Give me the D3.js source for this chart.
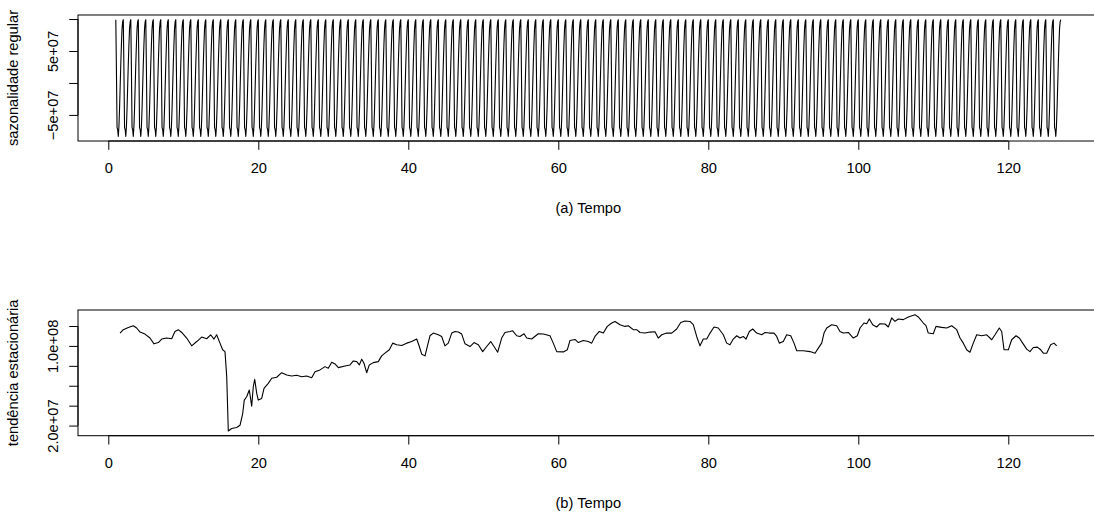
<!DOCTYPE html>
<html>
<head>
<meta charset="utf-8">
<script src="https://d3js.org/d3.v7.min.js"></script>
<style>
  body { margin: 0; background: #fff; }
  text { font-family: "Liberation Sans", Arial, sans-serif; }
</style>
</head>
<body>
<script>
// values in millions
var unit = 1e6;

// one seasonal period (peak first), repeated over the whole series
var seasonalProfile = [99, 20, -70, -73, -83.5, -68, -40, -5, 30, 60, 85, 96];
var seasonStart = 1;
var seasonPeriods = 126;

// trend: time and value
var trendTime = [1.57, 2.0, 2.67, 3.33, 3.78, 4.23, 4.89, 5.56, 6.09, 6.67, 7.12, 7.79, 8.45, 8.89, 9.33, 9.79,
  10.45, 11.12, 11.79, 12.45, 13.12, 13.65, 14.09, 14.45, 14.89, 15.25, 15.56, 15.79, 16.0, 16.45, 17.12, 17.56,
  17.92, 18.13, 18.45, 18.8, 19.12, 19.33, 19.52, 19.79, 20.0, 20.45, 20.76, 21.33, 21.79, 22.45, 23.12, 23.79,
  24.45, 25.12, 25.79, 26.45, 27.12, 27.56, 28.23, 28.89, 29.33, 29.79, 30.23, 30.67, 31.56, 32.23, 32.67, 33.12,
  33.47, 33.79, 34.09, 34.45, 34.8, 35.33, 36.0, 36.45, 36.89, 37.47, 37.92, 38.45, 39.12, 39.79, 40.45, 41.12,
  41.47, 41.79, 42.23, 42.53, 42.89, 43.33, 44.0, 44.45, 44.89, 45.33, 45.79, 46.23, 46.67, 47.12, 47.56, 48.23,
  48.76, 49.33, 49.92, 50.45, 50.99, 51.43, 51.92, 52.45, 52.89, 53.56, 53.92, 54.45, 54.89, 55.43, 55.79, 56.45,
  57.33, 58.0, 58.89, 59.33, 59.79, 60.67, 61.2, 61.56, 62.23, 62.67, 63.33, 64.0, 64.45, 64.89, 65.47, 66.0,
  66.53, 67.12, 67.56, 68.23, 68.89, 69.33, 70.0, 70.45, 70.89, 71.56, 72.23, 72.89, 73.33, 73.79, 74.45, 75.12,
  75.79, 76.32, 76.89, 77.56, 78.0, 78.45, 78.89, 79.33, 79.79, 80.23, 80.76, 81.33, 82.0, 82.45, 82.89, 83.33,
  83.79, 84.23, 84.67, 85.03, 85.47, 85.92, 86.45, 87.12, 87.56, 88.13, 88.76, 89.12, 89.47, 90.0, 90.45, 90.99,
  91.43, 91.79, 92.67, 93.56, 94.23, 94.67, 95.12, 95.43, 95.79, 96.45, 97.12, 97.56, 98.0, 98.67, 99.33, 99.87,
  100.23, 100.76, 101.12, 101.47, 101.92, 102.45, 102.89, 103.56, 104.0, 104.45, 104.89, 105.33, 106.0, 106.67, 107.56, 108.0,
  108.67, 109.03, 109.33, 110.0, 110.36, 111.12, 111.79, 112.45, 113.12, 113.56, 114.0, 114.45, 114.89, 115.33, 115.79, 116.45,
  117.12, 117.79, 118.23, 118.8, 119.12, 119.43, 120.0, 120.45, 121.03, 121.47, 121.92, 122.45, 122.89, 123.33, 123.87, 124.32,
  124.67, 125.12, 125.65, 126.09, 126.45];
var trendValue = [112.9, 116.3, 118.6, 120.3, 118.0, 113.9, 111.9, 107.9, 102.1, 103.4, 106.9, 107.9, 107.2, 114.5, 116.3, 113.5,
  107.9, 100.1, 104.4, 108.9, 107.2, 111.2, 106.9, 111.2, 102.8, 96.1, 94.3, 69.1, 14.5, 17.0, 18.0, 20.3,
  32.1, 45.6, 48.9, 55.7, 39.5, 59.0, 66.5, 52.3, 45.6, 47.3, 57.4, 62.4, 67.5, 68.5, 73.1, 70.8,
  69.8, 70.5, 69.1, 69.8, 68.1, 74.1, 75.9, 79.2, 77.6, 83.6, 81.9, 78.2, 79.9, 80.9, 84.9, 84.2,
  80.9, 86.7, 82.6, 73.1, 80.9, 83.2, 84.2, 90.0, 92.7, 96.1, 102.8, 101.1, 100.4, 102.8, 104.4, 106.9,
  99.4, 91.7, 90.0, 99.4, 110.2, 112.9, 111.2, 109.5, 100.1, 102.8, 112.9, 114.5, 113.9, 111.9, 102.1, 99.4,
  103.4, 101.1, 94.3, 99.4, 104.4, 99.4, 93.7, 107.9, 113.5, 114.5, 115.2, 110.2, 109.5, 112.2, 107.9, 106.9,
  112.2, 111.9, 110.2, 102.8, 94.3, 94.0, 96.1, 105.5, 106.5, 103.4, 105.5, 104.4, 102.8, 109.5, 114.5, 112.9,
  119.6, 123.0, 124.6, 121.3, 119.6, 120.3, 116.3, 116.3, 113.5, 112.9, 113.9, 114.2, 107.9, 111.2, 112.9, 112.9,
  117.0, 123.6, 125.0, 124.6, 121.3, 109.5, 100.1, 106.9, 106.9, 112.9, 119.0, 118.0, 111.2, 102.8, 101.1, 106.9,
  110.2, 107.9, 109.5, 106.9, 114.5, 117.0, 112.9, 111.2, 113.5, 112.9, 112.9, 109.5, 102.8, 104.4, 111.2, 110.2,
  102.8, 95.1, 95.1, 94.3, 92.7, 97.8, 102.8, 112.9, 118.0, 121.3, 120.3, 114.5, 112.9, 113.5, 107.9, 110.2,
  118.0, 123.0, 122.3, 127.1, 121.3, 119.0, 122.3, 122.0, 119.0, 128.1, 124.6, 127.1, 126.4, 129.1, 131.4, 129.1,
  123.0, 120.3, 112.9, 112.2, 119.6, 118.6, 118.0, 120.3, 116.3, 107.9, 102.8, 96.1, 93.7, 102.8, 111.2, 110.2,
  111.2, 106.2, 111.2, 118.0, 114.5, 96.1, 96.1, 106.2, 110.2, 107.9, 102.8, 96.8, 94.3, 98.4, 98.8, 96.1,
  92.7, 92.7, 101.1, 102.8, 100.1];

// tick labels
var xTicks = [0, 20, 40, 60, 80, 100, 120];
var seasonTicks = [-50, 0, 50, 100];
var seasonTickLabels = {"-50": "\u22125e+07", "50": "5e+07"};
var trendTicks = [20, 40, 60, 80, 100, 120];
var trendTickLabels = {"20": "2.0e+07", "100": "1.0e+08"};

//Width and height
var w = 1094;
var h = 515;
var boxLeft = 78;
var boxRight = 1098.6;
var fontSize = 14.67;

// build seasonal series
var seasonal = [];
for (var p = 0; p < seasonPeriods; p++) {
  for (var k = 0; k < seasonalProfile.length; k++) {
    seasonal.push({t: seasonStart + p + k / seasonalProfile.length, v: seasonalProfile[k] * unit});
  }
}
seasonal.push({t: seasonStart + seasonPeriods, v: seasonalProfile[0] * unit});

var trend = trendTime.map(function(t, i) { return {t: t, v: trendValue[i] * unit}; });

// R style 4% padding
function pad(ext) {
  var d = (ext[1] - ext[0]) * 0.04;
  return [ext[0] - d, ext[1] + d];
}

var x = d3.scaleLinear()
  .domain(pad(d3.extent(seasonal, function(d) { return d.t; })))
  .range([boxLeft, boxRight]);

var svg = d3.select("body")
  .append("svg")
  .attr("width", w)
  .attr("height", h);

function panel(data, top, bottom, ticks, tickLabels, yTitle, xTitle) {
  var y = d3.scaleLinear()
    .domain(pad(d3.extent(data, function(d) { return d.v; })))
    .range([bottom, top]);

  var g = svg.append("g");

  //box
  g.append("rect")
    .attr("x", boxLeft)
    .attr("y", top)
    .attr("width", boxRight - boxLeft)
    .attr("height", bottom - top)
    .attr("fill", "none")
    .attr("stroke", "#000")
    .attr("stroke-width", 1);

  //the series
  var line = d3.line()
    .x(function(d) { return x(d.t); })
    .y(function(d) { return y(d.v); });

  g.append("path")
    .datum(data)
    .attr("d", line)
    .attr("fill", "none")
    .attr("stroke", "#000")
    .attr("stroke-width", 1.1)
    .attr("stroke-linejoin", "round");

  //x axis
  var xa = g.append("g")
    .attr("transform", "translate(0," + bottom + ")")
    .call(d3.axisBottom(x).tickValues(xTicks).tickSize(8.8).tickFormat(d3.format("d")));
  xa.select(".domain").remove();
  xa.append("line")
    .attr("x1", x(xTicks[0]))
    .attr("x2", x(xTicks[xTicks.length - 1]))
    .attr("stroke", "#000");
  xa.selectAll(".tick line").attr("stroke", "#000");
  xa.selectAll("text")
    .attr("y", 32)
    .attr("dy", null)
    .attr("fill", "#000")
    .style("font-size", fontSize + "px")
    .style("font-family", "Liberation Sans, Arial, sans-serif");

  //y axis
  var ya = g.append("g")
    .attr("transform", "translate(" + boxLeft + ",0)")
    .call(d3.axisLeft(y)
      .tickValues(ticks.map(function(v) { return v * unit; }))
      .tickSize(8.8)
      .tickFormat(function(d) { return tickLabels[String(d / unit)] || ""; }));
  ya.select(".domain").remove();
  ya.append("line")
    .attr("y1", y(ticks[0] * unit))
    .attr("y2", y(ticks[ticks.length - 1] * unit))
    .attr("stroke", "#000");
  ya.selectAll(".tick line").attr("stroke", "#000");
  ya.selectAll("text")
    .attr("x", 0)
    .attr("y", -20)
    .attr("dy", null)
    .attr("transform", "rotate(-90)")
    .attr("text-anchor", "middle")
    .attr("fill", "#000")
    .style("font-size", fontSize + "px")
    .style("font-family", "Liberation Sans, Arial, sans-serif");

  //titles
  g.append("text")
    .attr("transform", "translate(18," + ((top + bottom) / 2) + ") rotate(-90)")
    .attr("text-anchor", "middle")
    .style("font-size", fontSize + "px")
    .text(yTitle);

  g.append("text")
    .attr("x", (boxLeft + boxRight) / 2)
    .attr("y", bottom + 72)
    .attr("text-anchor", "middle")
    .style("font-size", fontSize + "px")
    .text(xTitle);
}

panel(seasonal, 15, 141, seasonTicks, seasonTickLabels, "sazonalidade regular", "(a) Tempo");
panel(trend, 310, 435.7, trendTicks, trendTickLabels, "tendência estacionária", "(b) Tempo");
</script>
</body>
</html>
